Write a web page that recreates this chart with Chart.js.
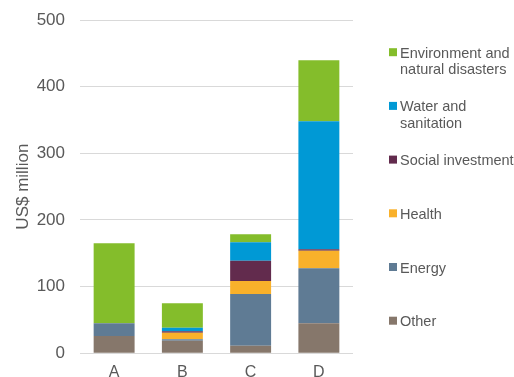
<!DOCTYPE html>
<html>
<head>
<meta charset="utf-8">
<script src="https://cdn.jsdelivr.net/npm/chart.js@4/dist/chart.umd.min.js"></script>
<style>
  html, body { margin: 0; padding: 0; background: #ffffff; overflow: hidden; }
  #wrap { width: 514px; height: 377px; position: relative; }
</style>
</head>
<body>
<div id="wrap"><canvas id="chart" width="514" height="377"></canvas></div>
<script>
// Data
const categories = ['A', 'B', 'C', 'D'];
const yTicks = [0, 100, 200, 300, 400, 500];

const other = [26, 19, 11.5, 45];
const energy = [19, 2, 77.5, 82.5];
const health = [0, 10, 19.5, 26.5];
const social = [0, 2, 30.5, 2];
const water = [0, 5.5, 27.5, 192];
const environment = [120, 36.5, 12, 91.5];

// Legend names (line breaks as in the picture)
const seriesNames = [
    'Other',
    'Energy',
    'Health',
    'Social investment',
    'Water and\nsanitation',
    'Environment and\nnatural disasters'
];
const seriesValues = [other, energy, health, social, water, environment];
const seriesColors = ['#86776b', '#5f7b94', '#f9b12b', '#622b4d', '#0099d5', '#84bd2b'];

const textGray = '#595959';
const fontFamily = '"Liberation Sans", Arial, sans-serif';

// Custom legend on the right (top entry = last dataset)
const sideLegend = {
    id: 'sideLegend',
    afterDraw(chart) {
        const ctx = chart.ctx;
        const sets = chart.data.datasets;
        ctx.save();
        ctx.font = '14.5px ' + fontFamily;
        ctx.textBaseline = 'alphabetic';
        ctx.textAlign = 'left';
        for (let i = 0; i < sets.length; i++) {
            const ds = sets[sets.length - 1 - i];
            const baseY = 57.7 + i * 53.7;
            ctx.fillStyle = ds.backgroundColor;
            ctx.fillRect(389, baseY - 9.5, 8, 8);
            ctx.fillStyle = textGray;
            ds.label.split('\n').forEach((line, k) => {
                ctx.fillText(line, 400, baseY + k * 16.7);
            });
        }
        ctx.restore();
    }
};

const ctx = document.getElementById('chart').getContext('2d');
new Chart(ctx, {
    type: 'bar',
    data: {
        labels: categories,
        datasets: seriesNames.map((name, i) => ({
            label: name,
            data: seriesValues[i],
            backgroundColor: seriesColors[i],
            borderWidth: 0,
            barPercentage: 0.6,
            categoryPercentage: 1
        }))
    },
    options: {
        responsive: false,
        animation: false,
        layout: { padding: { top: 20, right: 161, left: 0, bottom: 0 } },
        plugins: {
            legend: { display: false },
            tooltip: { enabled: false }
        },
        scales: {
            x: {
                stacked: true,
                grid: { display: false, drawTicks: false },
                border: { display: false },
                ticks: {
                    color: textGray,
                    font: { family: fontFamily, size: 16 },
                    padding: 10
                },
                afterFit(scale) {
                    scale.height = 23.7;
                    scale.paddingLeft = 0;
                    scale.paddingRight = 0;
                }
            },
            y: {
                stacked: true,
                min: 0,
                max: 500,
                afterBuildTicks(scale) { scale.ticks = yTicks.map(v => ({ value: v })); },
                grid: { color: '#d9d9d9', lineWidth: 1, drawTicks: false },
                border: { display: false },
                ticks: {
                    color: textGray,
                    font: { family: fontFamily, size: 17 },
                    padding: 15
                },
                title: {
                    display: true,
                    text: 'US$ million',
                    color: textGray,
                    font: { family: fontFamily, size: 17 },
                    padding: { top: 13, bottom: 0 }
                },
                afterFit(scale) {
                    scale.width = 80;
                    scale.paddingTop = 0;
                    scale.paddingBottom = 0;
                }
            }
        }
    },
    plugins: [sideLegend]
});
</script>
</body>
</html>
